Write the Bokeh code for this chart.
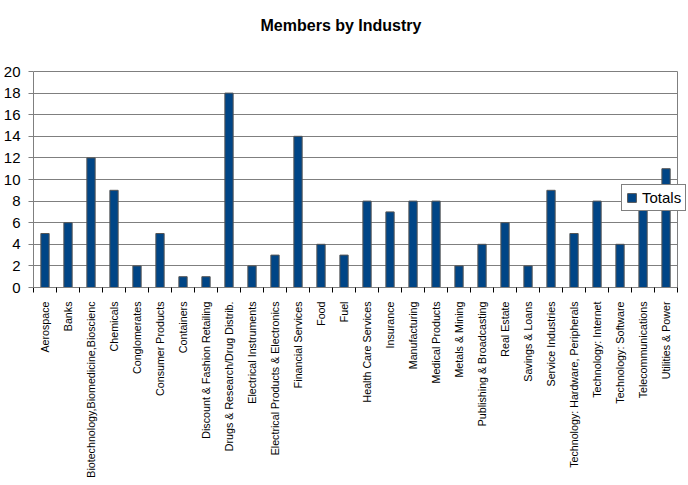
import math
from bokeh.plotting import figure
from bokeh.models import Range1d, FixedTicker, ColumnDataSource, Label
from bokeh.embed import file_html
from bokeh.resources import INLINE

title_text = "Members by Industry"
categories = [
    "Aerospace", "Banks", "Biotechnology,Biomedicine,Bioscienc", "Chemicals",
    "Conglomerates", "Consumer Products", "Containers", "Discount & Fashion Retailing",
    "Drugs & Research/Drug Distrib.", "Electrical Instruments",
    "Electrical Products & Electronics", "Financial Services", "Food", "Fuel",
    "Health Care Services", "Insurance", "Manufacturing", "Medical Products",
    "Metals & Mining", "Publishing & Broadcasting", "Real Estate", "Savings & Loans",
    "Service Industries", "Technology: Hardware, Peripherals", "Technology: Internet",
    "Technology: Software", "Telecommunications", "Utilities & Power",
]
totals = [5, 6, 12, 9, 2, 5, 1, 1, 18, 2, 3, 14, 4, 3, 8, 7, 8, 8, 2, 4, 6, 2, 9, 5, 8, 4, 8, 11]
y_ticks = list(range(0, 21, 2))
y_max = 20

n = len(categories)
centers = [i + 0.5 for i in range(n)]
bounds = list(range(n + 1))

FONT = "Liberation Sans"
GRID = "#7f7f7f"

# Frame covers 31..688 px horizontally and 0..287 px vertically;
# the visible chart box is 31..677 x 71..287 (646 x 216 px).
x_end = n * 657.0 / 646.0
y_end = y_max * 287.0 / 216.0

src = ColumnDataSource(dict(x=centers, top=totals, cat=categories))

p = figure(width=688, height=485, output_backend="svg", toolbar_location=None,
           x_range=Range1d(0, x_end), y_range=Range1d(0, y_end),
           min_border_left=31, min_border_right=0, min_border_top=0, min_border_bottom=198)

p.vbar(x="x", top="top", width=0.36, source=src, fill_color="#004586",
       line_color="#555555", line_width=1, legend_label="Totals")

p.add_layout(Label(x=307.5, y=262, x_units="screen", y_units="screen",
                   text=title_text, text_align="center", text_baseline="alphabetic",
                   text_font=FONT, text_font_size="16px", text_font_style="bold",
                   text_color="black"))

p.outline_line_color = None
p.background_fill_color = "white"
p.border_fill_color = "white"

# horizontal grid lines (incl. top border), limited to the chart box
p.ygrid.grid_line_color = GRID
p.ygrid.ticker = FixedTicker(ticks=y_ticks)
p.ygrid.cross_bounds = (0, n)

# right border of the chart box
p.xgrid.grid_line_color = GRID
p.xgrid.ticker = FixedTicker(ticks=[n])
p.xgrid.cross_bounds = (0, y_max)

ya = p.yaxis[0]
ya.bounds = (0, y_max)
ya.ticker = FixedTicker(ticks=y_ticks)
ya.axis_line_color = GRID
ya.major_tick_line_color = GRID
ya.major_tick_out = 5
ya.major_tick_in = 0
ya.minor_tick_line_color = None
ya.major_label_text_font = FONT
ya.major_label_text_font_size = "15px"
ya.major_label_text_color = "black"
ya.major_label_standoff = 8

xa = p.xaxis[0]
xa.bounds = (0, n)
xa.ticker = FixedTicker(ticks=centers, minor_ticks=bounds)
xa.major_label_overrides = {c: lab for c, lab in zip(centers, categories)}
xa.axis_line_color = GRID
xa.major_tick_line_color = None
xa.minor_tick_line_color = "black"
xa.minor_tick_out = 5
xa.minor_tick_in = 0
xa.major_label_orientation = math.pi / 2
xa.major_label_text_font = FONT
xa.major_label_text_font_size = "10.7px"
xa.major_label_text_color = "black"
xa.major_label_standoff = 8

lg = p.legend[0]
lg.location = (588, 76)
lg.border_line_color = "black"
lg.border_line_width = 1
lg.background_fill_color = "white"
lg.background_fill_alpha = 1
lg.label_text_font = FONT
lg.label_text_font_size = "15px"
lg.label_text_color = "black"
lg.glyph_width = 11
lg.glyph_height = 11
lg.padding = 4
lg.margin = 0
lg.spacing = 0
lg.label_standoff = 5
lg.label_height = 14

open("out.html", "w").write(file_html(p, INLINE))
